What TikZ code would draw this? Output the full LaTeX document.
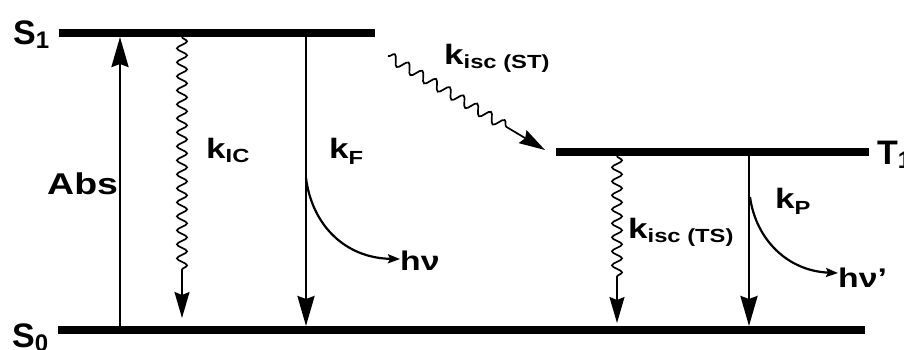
\documentclass[tikz,border=0pt]{standalone}
\usepackage{fontspec}
\setmainfont{Liberation Sans}
\newfontfamily\wfont{Liberation Sans}[FakeStretch=1.25]
\usetikzlibrary{arrows.meta,decorations.pathmorphing}
\newcommand{\kl}[2]{\wfont\bfseries\fontsize{28}{28}\selectfont k\raisebox{-#2}{\fontsize{19}{19}\selectfont #1}}
\newcommand{\lv}[2]{\bfseries\fontsize{34}{34}\selectfont #1\raisebox{-4pt}{\fontsize{24}{24}\selectfont #2}}
\tikzset{
  level/.style={line width=8pt},
  main/.style={line width=2.8pt,-{Stealth[length=30pt,width=17pt,inset=3pt]}},
  wavy/.style={line width=1.7pt,-{Stealth[length=26pt,width=15pt,inset=3pt]},decorate,
     decoration={snake,amplitude=5pt,segment length=14pt,post length=45pt}},
  emit/.style={line width=2.2pt,-{Stealth[length=12pt,width=9pt,inset=2pt]}},
  lab/.style={anchor=base west,inner sep=0pt}
}
\begin{document}
\begin{tikzpicture}[x=1pt,y=-1pt]
\useasboundingbox (0,0) rectangle (904,349);
% levels
\coordinate (S1a) at (59,33);  \coordinate (S1b) at (375,33);
\coordinate (S0a) at (58,330); \coordinate (S0b) at (865,330);
\coordinate (T1a) at (556,152); \coordinate (T1b) at (869,152);
\draw[level] (S1a) -- (S1b);
\draw[level] (S0a) -- (S0b);
\draw[level] (T1a) -- (T1b);
% absorption
\coordinate (absB) at (120,326); \coordinate (absT) at (120,37);
\draw[main] (absB) -- (absT);
% internal conversion
\coordinate (icT) at (182,37); \coordinate (icB) at (182,318);
\draw[wavy] (icT) -- (icB);
% fluorescence
\coordinate (fT) at (306,37); \coordinate (fB) at (306,326);
\draw[main] (fT) -- (fB);
\coordinate (fC) at (306,178);
\node[lab] (hv1) at (400,270) {\wfont\bfseries\fontsize{27}{27}\selectfont hν};
\draw[emit] (fC) .. controls (312,225) and (345,258) .. (hv1.west |- 0,259);
% ISC S->T
\coordinate (iscA) at (388,56); \coordinate (iscB) at (545,150);
\draw[wavy,decoration={snake,amplitude=5pt,segment length=16pt,post length=40pt}] (iscA) -- (iscB);
% ISC T->S
\coordinate (tsT) at (617,156); \coordinate (tsB) at (617,323);
\draw[wavy] (tsT) -- (tsB);
% phosphorescence
\coordinate (pT) at (749,156); \coordinate (pB) at (749,326);
\draw[main] (pT) -- (pB);
\coordinate (pC) at (750,197);
\node[lab] (hv2) at (838,287) {\wfont\bfseries\fontsize{27}{27}\selectfont hν’};
\draw[emit] (pC) .. controls (756,240) and (788,271) .. (hv2.west |- 0,273);
% labels
\node[lab] (s1) at (13,44) {\lv{S}{1}};
\node[lab] (s0) at (12,347) {\lv{S}{0}};
\node[lab] (t1) at (877,164) {\lv{T}{1}};
\node[lab] (abs) at (47,194) {\wfont\bfseries\fontsize{30}{30}\selectfont Abs};
\node[lab] (kic) at (206,158) {\kl{IC}{4pt}};
\node[lab] (kf) at (329,158) {\kl{F}{6pt}};
\node[lab] (kst) at (444,64) {\kl{isc (ST)}{4pt}};
\node[lab] (kts) at (628,238) {\kl{isc (TS)}{4pt}};
\node[lab] (kp) at (775,208) {\kl{P}{6pt}};
\end{tikzpicture}
\end{document}
